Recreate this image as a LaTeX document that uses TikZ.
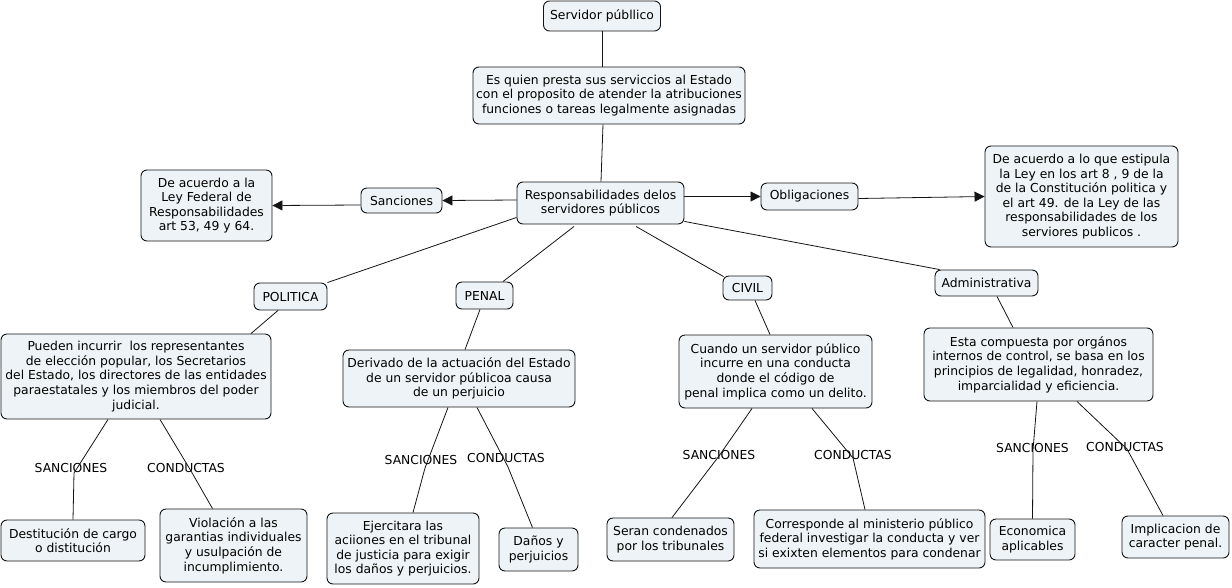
\documentclass[tikz,border=0pt]{standalone}
\usepackage{fontspec}
\setmainfont{DejaVu Sans}
\usetikzlibrary{arrows.meta,calc}
\definecolor{boxfill}{RGB}{237,243,246}
\definecolor{edgecol}{RGB}{20,20,20}
\begin{document}
\begin{tikzpicture}[x=1pt,y=-1pt,
  cbox/.style={draw=edgecol,line width=0.9pt,fill=boxfill,rounded corners=6pt,
    align=center,inner sep=0pt,font=\fontsize{12.35}{14.6}\selectfont},
  lnk/.style={inner sep=0pt,font=\fontsize{12.35}{14.6}\selectfont},
  conn/.style={draw=edgecol,line width=0.8pt},
  arr/.style={conn,-{Triangle[length=10pt,width=10pt]}}]
\useasboundingbox (0,0) rectangle (1232,587);
% top chain
\node[cbox,minimum width=117,minimum height=30] (serv) at (602,16) {Servidor públlico};
\node[cbox,minimum width=272,minimum height=57] (esq) at (609,95.5) {Es quien presta sus serviccios al Estado\\con el proposito de atender la atribuciones\\funciones o tareas legalmente asignadas};
\node[cbox,minimum width=167,minimum height=42] (resp) at (600.5,203) {Responsabilidades delos\\servidores públicos};
\node[cbox,minimum width=81,minimum height=25] (sanc) at (401.5,200.5) {Sanciones};
\node[cbox,minimum width=131,minimum height=71] (deac1) at (206.5,205.5) {De acuerdo a la\\Ley Federal de\\Responsabilidades\\art 53, 49 y 64.};
\node[cbox,minimum width=97,minimum height=27] (oblig) at (809.5,196.5) {Obligaciones};
\node[cbox,minimum width=193,minimum height=101] (deac2) at (1081.5,196.5) {De acuerdo a lo que estipula\\la Ley en los art 8 , 9 de la\\de la Constitución politica y\\el art 49. de la Ley de las\\responsabilidades de los\\serviores publicos .};
% categories
\node[cbox,minimum width=73,minimum height=27] (politica) at (290.5,296.5) {POLITICA};
\node[cbox,minimum width=57,minimum height=27] (penal) at (484.5,295.5) {PENAL};
\node[cbox,minimum width=49,minimum height=24] (civil) at (747.5,288) {CIVIL};
\node[cbox,minimum width=103,minimum height=26] (admin) at (986.5,283) {Administrativa};
% descriptions
\node[cbox,minimum width=270,minimum height=85] (pueden) at (136,376.5) {Pueden incurrir\ \ los representantes\\de elección popular, los Secretarios\\del Estado, los directores de las entidades\\paraestatales y los miembros del poder\\judicial.};
\node[cbox,minimum width=232,minimum height=57] (deriv) at (459,378.5) {Derivado de la actuación del Estado\\de un servidor públicoa causa\\de un perjuicio};
\node[cbox,minimum width=193,minimum height=73] (cuando) at (775.5,371.5) {Cuando un servidor público\\incurre en una conducta\\donde el código de\\penal implica como un delito.};
\node[cbox,minimum width=229,minimum height=73] (esta) at (1038.5,364.5) {Esta compuesta por orgános\\internos de control, se basa en los\\principios de legalidad, honradez,\\imparcialidad y eficiencia.};
% linking phrases
\node[lnk] (s1) at (71,468) {SANCIONES};
\node[lnk] (c1) at (186,468) {CONDUCTAS};
\node[lnk] (s2) at (421,460) {SANCIONES};
\node[lnk] (c2) at (506,458) {CONDUCTAS};
\node[lnk] (s3) at (719,455) {SANCIONES};
\node[lnk] (c3) at (853,455) {CONDUCTAS};
\node[lnk] (s4) at (1032.5,448) {SANCIONES};
\node[lnk] (c4) at (1125,447) {CONDUCTAS};
% leaves
\node[cbox,minimum width=144,minimum height=41] (destit) at (73,540.5) {Destitución de cargo\\o distitución};
\node[cbox,minimum width=147,minimum height=73] (viol) at (233.5,545.5) {Violación a las\\garantias individuales\\y usulpación de\\incumplimiento.};
\node[cbox,minimum width=152,minimum height=71] (ejer) at (403,548.5) {Ejercitara las\\aciiones en el tribunal\\de justicia para exigir\\los daños y perjuicios.};
\node[cbox,minimum width=79,minimum height=43] (danos) at (538.5,549.5) {Daños y\\perjuicios};
\node[cbox,minimum width=127,minimum height=43] (seran) at (670.5,539.5) {Seran condenados\\por los tribunales};
\node[cbox,minimum width=231,minimum height=58] (corr) at (869.5,539) {Corresponde al ministerio público\\federal investigar la conducta y ver\\si exixten elementos para condenar};
\node[cbox,minimum width=85,minimum height=41] (econ) at (1032.5,539.5) {Economica\\aplicables};
\node[cbox,minimum width=107,minimum height=42] (impl) at (1175.5,537) {Implicacion de\\caracter penal.};
% connectors: top
\draw[conn] (serv.south) -- (esq.north -| serv.south);
\draw[conn] ($(esq.south)+(-6,0)$) -- ($(resp.north)+(0.5,0)$);
\draw[arr] ($(resp.west)+(0,-3)$) -- (sanc.east);
\draw[arr] ($(sanc.west)+(0,4.5)$) -- (deac1.east);
\draw[arr] (resp.east |- oblig.west) -- (oblig.west);
\draw[arr] ($(oblig.east)+(0,2)$) -- (deac2.west);
% connectors: categories
\draw[conn] ($(resp.south west)+(0,-7)$) -- (politica.north east);
\draw[conn] ($(resp.south)+(-26.5,2)$) -- ($(penal.north)+(18.5,0)$);
\draw[conn] ($(resp.south)+(35.5,2)$) -- ($(civil.north west)+(1,1)$);
\draw[conn] ($(resp.south east)+(0,-3)$) -- ($(admin.north west)+(5,0)$);
\draw[conn] ($(politica.south)+(-12.5,0)$) -- ($(pueden.north)+(115,0)$);
\draw[conn] ($(penal.south)+(-4.5,0)$) -- ($(deriv.north)+(6,0)$);
\draw[conn] ($(civil.south)+(7.5,0)$) -- ($(cuando.north)+(-5.5,0)$);
\draw[conn] ($(admin.south)+(10.5,0)$) -- ($(esta.north)+(-25.5,0)$);
% connectors: linking phrases
\draw[conn] ($(pueden.south)+(-28,0)$) -- ($(s1.center)+(3,5)$) -- (destit.north);
\draw[conn] ($(pueden.south)+(24,0)$) -- ($(c1.center)+(5,3)$) -- ($(viol.north)+(-21,0)$);
\draw[conn] ($(deriv.south)+(-11,0)$) -- ($(s2.center)+(4,8)$) -- ($(ejer.north)+(10,0)$);
\draw[conn] ($(deriv.south)+(18,0)$) -- ($(c2.center)+(2,9)$) -- ($(danos.north)+(-6,0)$);
\draw[conn] ($(cuando.south)+(-23.5,0)$) -- ($(s3.center)+(0,1)$) -- ($(seran.north)+(1.5,0)$);
\draw[conn] ($(cuando.south)+(36.5,0)$) -- ($(c3.center)+(0,3)$) -- ($(corr.north)+(-4.5,0)$);
\draw[conn] ($(esta.south)+(-1.5,0)$) -- ($(s4.center)+(0.5,2)$) -- (econ.north);
\draw[conn] ($(esta.south)+(38.5,0)$) -- ($(c4.center)+(2,2)$) -- ($(impl.north)+(-12.5,0)$);
\end{tikzpicture}
\end{document}
